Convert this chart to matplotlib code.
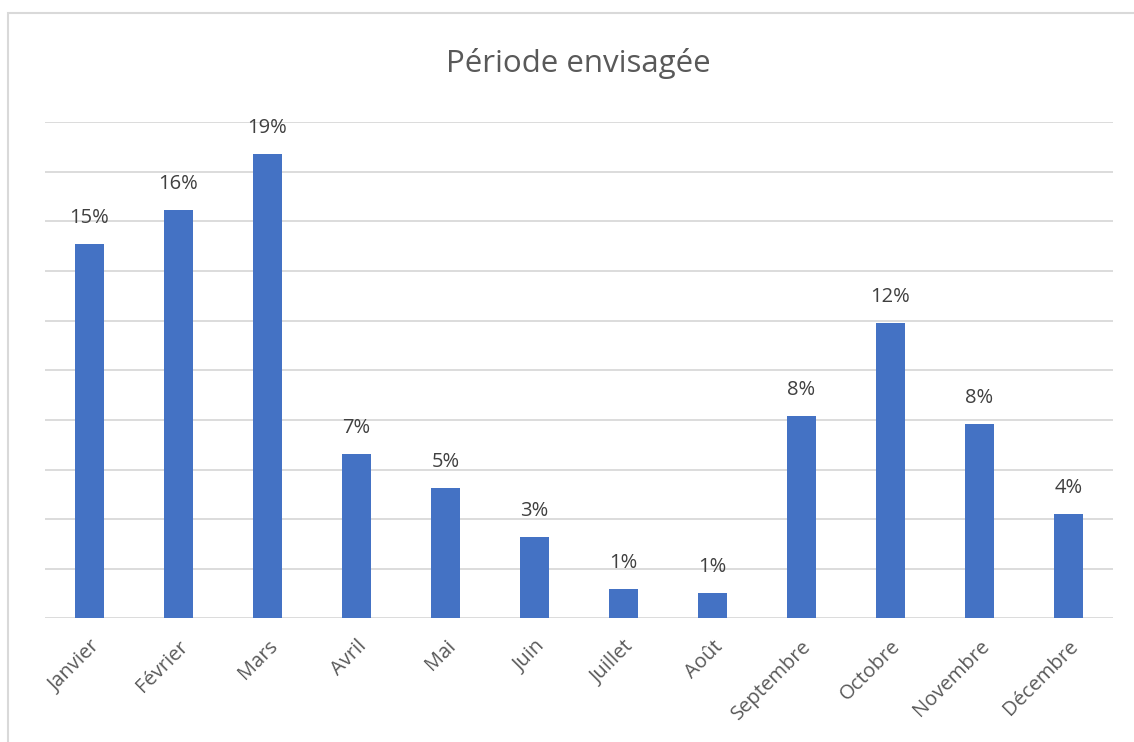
import matplotlib
matplotlib.use('Agg')
import matplotlib.pyplot as plt
from matplotlib.patches import Rectangle

# Share of respondents by planned month
months = ['Janvier', 'Février', 'Mars', 'Avril', 'Mai', 'Juin',
          'Juillet', 'Août', 'Septembre', 'Octobre', 'Novembre', 'Décembre']
shares = [15.08, 16.45, 18.72, 6.63, 5.26, 3.28,
          1.18, 1.02, 8.16, 11.91, 7.84, 4.21]
y_ticks = [0, 2, 4, 6, 8, 10, 12, 14, 16, 18, 20]

bar_color = '#4472C4'
grid_color = '#D9D9D9'
text_color = '#595959'

plt.rcParams['font.family'] = ['Open Sans', 'DejaVu Sans']

fig = plt.figure(figsize=(11.34, 7.42), dpi=100)
ax = fig.add_axes([0.0397, 0.1665, 0.9418, 0.6688])

# Chart frame
fig.patches.append(Rectangle((8 / 1134, -0.01), 1.2, 1 - 13 / 742 + 0.01,
                             transform=fig.transFigure, fill=False,
                             edgecolor=grid_color, linewidth=1.5))

x = range(len(months))
bars = ax.bar(x, shares, width=0.32, color=bar_color, zorder=3)

for rect, v in zip(bars, shares):
    ax.annotate(f'{v:.0f}%', (rect.get_x() + rect.get_width() / 2, v),
                xytext=(0, 11.5), textcoords='offset points',
                ha='center', va='bottom', fontsize=14.5, color='#404040')

ax.set_xlim(-0.5, len(months) - 0.5)
ax.set_ylim(0, 20)
ax.set_yticks(y_ticks)
ax.yaxis.grid(True, color=grid_color, linewidth=1.3, zorder=0)
ax.tick_params(axis='y', left=False, labelleft=False)
ax.tick_params(axis='x', length=0, pad=13)
ax.set_xticks(list(x))
ax.set_xticklabels(months, rotation=45, ha='right', rotation_mode='anchor',
                   fontsize=14.5, color=text_color)
for s in ax.spines.values():
    s.set_visible(False)

fig.text(0.51, 0.915, 'Période envisagée', ha='center', va='center',
         fontsize=22.5, color=text_color)

fig.savefig('out.png', dpi=100)
